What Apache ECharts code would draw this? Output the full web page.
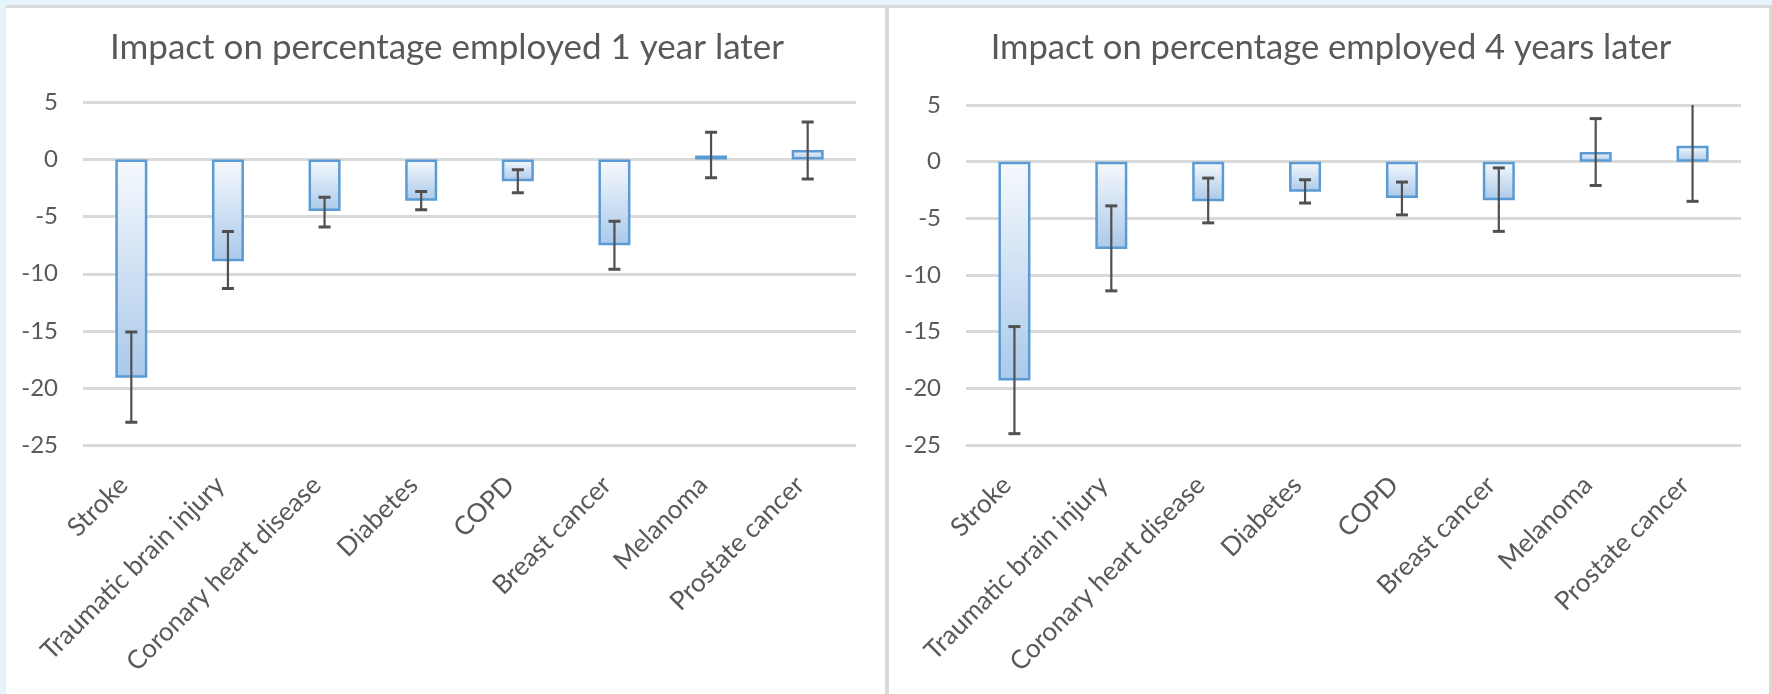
<!DOCTYPE html>
<html>
<head>
<meta charset="utf-8">
<script src="https://cdn.jsdelivr.net/npm/echarts@6/dist/echarts.min.js"></script>
<style>
  html, body { margin: 0; padding: 0; width: 1772px; height: 694px; overflow: hidden; background: #e5f3fb; }
  #bg1 { position: absolute; left: 6px; top: 5px; width: 1766px; height: 3px; background: #d9d9d9; }
  #p1 { position: absolute; left: 6px; top: 8px; width: 879px; height: 686px; background: #ffffff; }
  #div { position: absolute; left: 885px; top: 8px; width: 4px; height: 686px; background: #d9d9d9; }
  #p2 { position: absolute; left: 889px; top: 8px; width: 880px; height: 686px; background: #ffffff; }
  #rb { position: absolute; left: 1769px; top: 8px; width: 3px; height: 686px; background: #d9d9d9; }
  #chart { position: absolute; left: 0; top: 0; width: 1772px; height: 694px; }
</style>
</head>
<body>
<div id="bg1"></div><div id="p1"></div><div id="div"></div><div id="p2"></div><div id="rb"></div>
<div id="chart"></div>
<script>
// ---- data ----
var categories = ['Stroke', 'Traumatic brain injury', 'Coronary heart disease', 'Diabetes', 'COPD', 'Breast cancer', 'Melanoma', 'Prostate cancer'];
var titleLeft = 'Impact on percentage employed 1 year later';
var titleRight = 'Impact on percentage employed 4 years later';
var impact1yr = [-19.1, -8.9, -4.5, -3.6, -1.9, -7.5, 0.35, 0.85];
var ci1yrLow  = [-23.0, -11.3, -5.9, -4.4, -2.9, -9.6, -1.6, -1.7];
var ci1yrHigh = [-15.1, -6.3, -3.3, -2.8, -0.9, -5.4, 2.4, 3.3];
var impact4yr = [-19.3, -7.7, -3.5, -2.65, -3.2, -3.4, 0.85, 1.4];
var ci4yrLow  = [-24.0, -11.4, -5.4, -3.65, -4.7, -6.15, -2.1, -3.5];
var ci4yrHigh = [-14.55, -3.9, -1.45, -1.6, -1.8, -0.55, 3.8, 6.3];
var yMin = -25, yMax = 5, yStep = 5;

var chart = echarts.init(document.getElementById('chart'), null, { renderer: 'canvas' });
var FONT = 'Lato, "Open Sans", sans-serif';
var textColor = '#595959';

function errData(lo, hi) {
  return categories.map(function (c, i) { return [i, lo[i], hi[i]]; });
}
function errRender(params, api) {
  var x = api.value(0);
  var pLo = api.coord([x, api.value(1)]);
  var pHi = api.coord([x, api.value(2)]);
  var half = 6;
  var st = { stroke: '#505050', lineWidth: 2.2 };
  var cap = { stroke: '#505050', lineWidth: 3 };
  return {
    type: 'group',
    children: [
      { type: 'line', shape: { x1: pLo[0], y1: pLo[1], x2: pHi[0], y2: pHi[1] }, style: st },
      { type: 'line', shape: { x1: pLo[0] - half, y1: pLo[1], x2: pLo[0] + half, y2: pLo[1] }, style: cap },
      { type: 'line', shape: { x1: pHi[0] - half, y1: pHi[1], x2: pHi[0] + half, y2: pHi[1] }, style: cap }
    ]
  };
}
var barStyle = {
  color: new echarts.graphic.LinearGradient(0, 0, 0, 1, [
    { offset: 0, color: '#f6f9fd' },
    { offset: 1, color: '#aac9ea' }
  ]),
  borderColor: '#5b9bd5',
  borderWidth: 2.5
};
function xAxis(gi) {
  return {
    type: 'category', gridIndex: gi, data: categories,
    axisLine: { show: false }, axisTick: { show: false },
    axisLabel: { rotate: 45, fontSize: 26, fontFamily: FONT, color: textColor, margin: 28,
                 interval: 0, padding: [0, 11, 0, 0] }
  };
}
function yAxis(gi) {
  return {
    type: 'value', gridIndex: gi, min: yMin, max: yMax, interval: yStep,
    axisLine: { show: false }, axisTick: { show: false },
    axisLabel: { fontSize: 24, fontFamily: FONT, color: textColor, margin: 25 },
    splitLine: { lineStyle: { color: '#d9d9d9', width: 3 } }
  };
}

chart.setOption({
  backgroundColor: 'transparent',
  animation: false,
  title: [
    { text: titleLeft, left: 442, top: 25, textAlign: 'center',
      textStyle: { fontSize: 35, fontWeight: 'normal', fontFamily: FONT, color: textColor } },
    { text: titleRight, left: 1326, top: 25, textAlign: 'center',
      textStyle: { fontSize: 34.6, fontWeight: 'normal', fontFamily: FONT, color: textColor } }
  ],
  grid: [
    { left: 83, right: 1772 - 856, top: 102.5, bottom: 694 - 445 },
    { left: 966, right: 1772 - 1741, top: 105, bottom: 694 - 445 }
  ],
  xAxis: [xAxis(0), xAxis(1)],
  yAxis: [yAxis(0), yAxis(1)],
  series: [
    { type: 'bar', xAxisIndex: 0, yAxisIndex: 0, data: impact1yr, barWidth: 32, itemStyle: barStyle },
    { type: 'custom', xAxisIndex: 0, yAxisIndex: 0, data: errData(ci1yrLow, ci1yrHigh), renderItem: errRender, clip: true, z: 5 },
    { type: 'bar', xAxisIndex: 1, yAxisIndex: 1, data: impact4yr, barWidth: 32, itemStyle: barStyle },
    { type: 'custom', xAxisIndex: 1, yAxisIndex: 1, data: errData(ci4yrLow, ci4yrHigh), renderItem: errRender, clip: true, z: 5 }
  ]
});
</script>
</body>
</html>
